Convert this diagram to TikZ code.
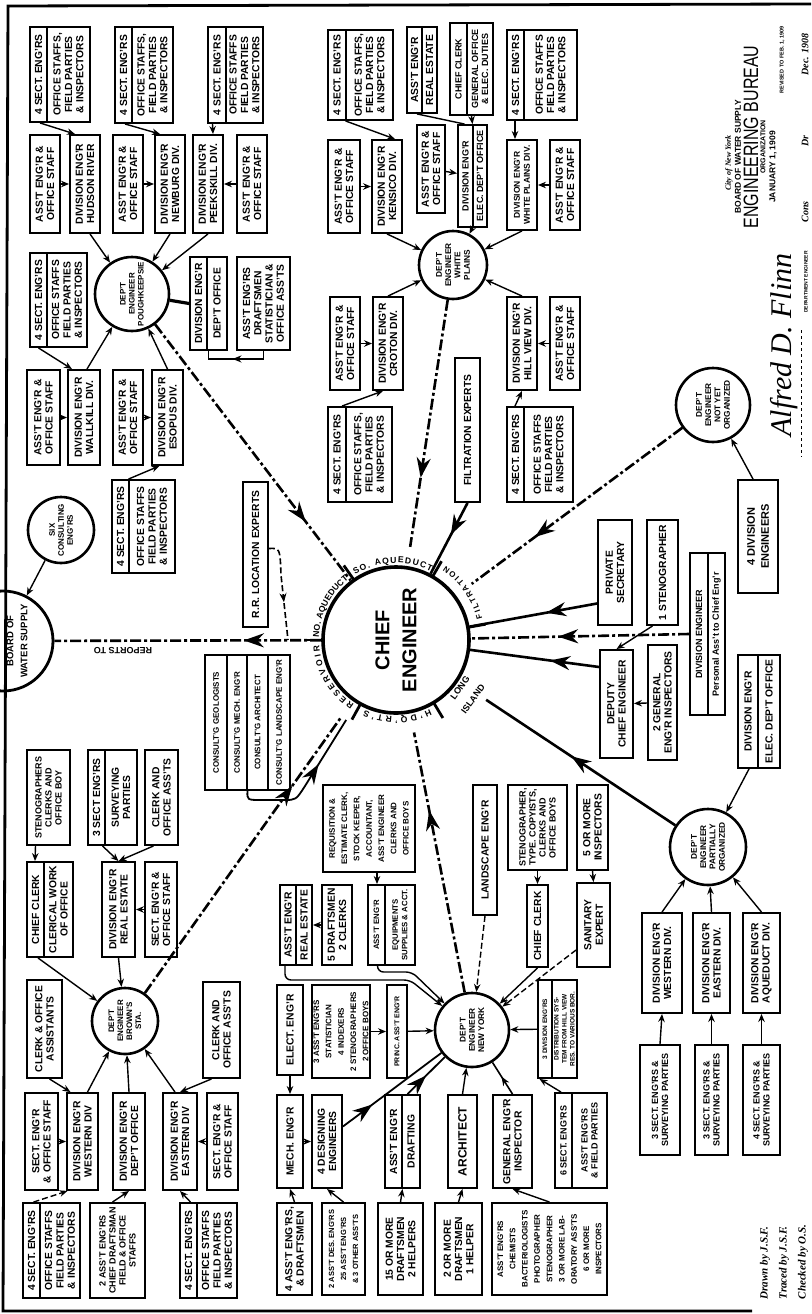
\documentclass[tikz,border=0pt]{standalone}
\usepackage{fontspec}
\usepackage{graphicx}
\setmainfont{Liberation Sans}
\newfontfamily\handfont{Liberation Serif}
\usetikzlibrary{arrows.meta,decorations.markings,decorations.text,calc}
\newcommand\fA{\bfseries\fontsize{10.3}{11.3}\selectfont}
\newcommand\fB{\bfseries\fontsize{9}{10}\selectfont}
\newcommand\fC{\bfseries\fontsize{8}{9}\selectfont}
\newcommand\fD{\bfseries\fontsize{8.3}{9.3}\selectfont}
\newcommand\fE{\bfseries\fontsize{8}{12.3}\selectfont}
\newcommand\fF{\bfseries\fontsize{6.5}{8}\selectfont}
\tikzset{
  bx/.style={draw, line width=1.9pt, rotate=90, align=center, inner sep=0pt, font=\fA},
  tx/.style={rotate=90, align=center, inner sep=0pt, font=\fA},
  cc/.style={draw, circle, line width=2.6pt, rotate=90, align=center, inner sep=0pt, font=\fD},
  ar/.style={line width=1.4pt, -{Stealth[length=8pt,width=6.5pt]}},
  ln/.style={line width=1.4pt},
  bigline/.style={line width=2.6pt},
  dd/.style={dash pattern=on 11pt off 3pt on 3pt off 3pt},
  ddt/.style={dash pattern=on 6pt off 3pt},
  midarr/.style={postaction={decorate, decoration={markings, mark=at position #1 with {\arrow{Stealth[length=20pt,width=14pt]}}}}},
  smid/.style={postaction={decorate, decoration={markings, mark=at position #1 with {\arrow{Stealth[length=9pt,width=7pt]}}}}},
  ring/.style={decorate, decoration={text along path, text align={fit to path}, text={|\bfseries\fontsize{8.6}{9}\selectfont|#1}}},
  ringS/.style={decorate, decoration={text along path, text align={fit to path}, text={|\bfseries\fontsize{8}{9}\selectfont|#1}}},
}
\newcommand\bxat[7][]{\node[bx,minimum width={#6-#5},minimum height={#4-#3},#1] (#2) at ({(#3+#4)/2},{(#5+#6)/2}) {#7};}
\newcommand\spl[9][]{%
  \node[bx,minimum width={#7-#6},minimum height={#5-#3},#1] (#2) at ({(#3+#5)/2},{(#6+#7)/2}) {};
  \draw[line width=1.4pt] (#4,#6) -- (#4,#7);
  \node[tx,#1] (#2a) at ({(#3+#4)/2},{(#6+#7)/2}) {#8};
  \node[tx,#1] (#2b) at ({(#4+#5)/2},{(#6+#7)/2}) {#9};}
\begin{document}
\begin{tikzpicture}[x=1pt,y=-1pt]
\useasboundingbox (0,0) rectangle (811,1314);
\fill[white] (0,0) rectangle (811,1314);
\draw[line width=2.8pt] (811,4) -- (8,6) -- (3,1311) -- (752,1311);

% ---------------- CHIEF ----------------
\node[draw, circle, line width=3.6pt, minimum size=146pt, rotate=90, align=center, inner sep=0pt,
  font=\bfseries\fontsize{20}{27}\selectfont] (chief) at (396,640) {CHIEF\\ENGINEER};
\node[circle, minimum size=188pt, inner sep=0pt] (chiefR) at (396,640) {};
\node[circle, minimum size=216pt, inner sep=0pt] (chiefL) at (396,640) {};
\path[ring={NO. AQUEDUCT}] ($(chief.center)+(-178:77)$) arc[start angle=-178, end angle=-128, radius=77];
\path[ring={SO. AQUEDUCT}] ($(chief.center)+(-122:77)$) arc[start angle=-122, end angle=-63, radius=77];
\path[ringS={FILTRATION}] ($(chief.center)+(-14:89)$) arc[start angle=-14, end angle=-56, radius=89];
\node[rotate=54, inner sep=0pt, font=\bfseries\fontsize{9}{9}\selectfont] (li1) at (460,688) {LONG};
\node[rotate=54, inner sep=0pt, font=\bfseries\fontsize{9}{9}\selectfont] (li2) at (473,699) {ISLAND};
\path[ring={H'DQ'RT'S}] ($(chief.center)+(64:77)$) arc[start angle=64, end angle=114, radius=77];
\path[ring={RESERVOIR}] ($(chief.center)+(123:77)$) arc[start angle=123, end angle=176, radius=77];
\foreach \a in {-125,-60,-10,59,119,180}
  \draw[line width=2.8pt] ($(chief.center)+(\a:74)$) -- ($(chief.center)+(\a:91)$);

% ---------------- BOARD / SIX ----------------
\node[draw, circle, line width=2.8pt, minimum size=100pt] (board) at (3,641) {};
\node[tx, font=\bfseries\fontsize{9.5}{14}\selectfont] (boardt) at (17,641) {BOARD OF\\WATER SUPPLY};
\node[cc, minimum size=66pt, font=\fC] (six) at (61,530) {SIX\\CONSULTING\\ENG'RS};
\node[rotate=180, inner sep=0pt, font=\bfseries\fontsize{9}{9}\selectfont] (rep) at (123,651) {REPORTS TO};
\bxat{rr}{243}{268}{482}{627}{R.R. LOCATION EXPERTS}
\coordinate (rrj) at (288,640);

% ---------------- POUGHKEEPSIE ----------------
\spl{p4a}{30}{47}{90}{27}{122}{4 SECT. ENG'RS}{OFFICE STAFFS,\\FIELD PARTIES\\\& INSPECTORS}
\spl{p4b}{115}{132}{173}{27}{123}{4 SECT. ENG'RS}{OFFICE STAFFS,\\FIELD PARTIES\\\& INSPECTORS}
\spl{p4c}{208}{226}{263}{27}{123}{4 SECT. ENG'RS}{OFFICE STAFFS\\FIELD PARTIES\\\& INSPECTORS}
\bxat{pa1}{30}{60}{135}{233}{ASS'T ENG'R \&\\OFFICE STAFF}
\bxat{pdHud}{70}{100}{135}{233}{DIVISION ENG'R\\HUDSON RIVER}
\bxat{pa2}{113}{143}{135}{233}{ASS'T ENG'R \&\\OFFICE STAFF}
\bxat{pdNew}{155}{185}{135}{233}{DIVISION ENG'R\\NEWBURG DIV.}
\bxat{pdPee}{193}{223}{135}{233}{DIVISION ENG'R\\PEEKSKILL DIV.}
\bxat{pa3}{237}{267}{135}{233}{ASS'T ENG'R \&\\OFFICE STAFF}
\node[cc, minimum size=74pt, font=\fC] (pk) at (132,294) {DEP'T\\ENGINEER\\POUGHKEEPSIE};
\spl{p4d}{30}{47}{87}{253}{347}{4 SECT. ENG'RS}{OFFICE STAFFS\\FIELD PARTIES\\\& INSPECTORS}
\spl{pdOff}{190}{207}{227}{257}{350}{DIVISION ENG'R}{DEP'T OFFICE}
\bxat{passt}{237}{290}{257}{350}{ASS'T ENG'RS\\DRAFTSMEN\\STATISTICIAN \&\\OFFICE ASS'TS}
\bxat{pa4}{27}{60}{370}{465}{ASS'T ENG'R \&\\OFFICE STAFF}
\bxat{pdWal}{68}{100}{370}{465}{DIVISION ENG'R\\WALLKILL DIV.}
\bxat{pa5}{113}{143}{370}{465}{ASS'T ENG'R \&\\OFFICE STAFF}
\bxat{pdEso}{152}{183}{370}{465}{DIVISION ENG'R\\ESOPUS DIV.}
\spl{p4e}{112}{129}{175}{480}{573}{4 SECT. ENG'RS}{OFFICE STAFFS\\FIELD PARTIES\\\& INSPECTORS}

% ---------------- WHITE PLAINS ----------------
\spl{w4a}{328}{346}{393}{30}{120}{4 SECT. ENG'RS}{OFFICE STAFFS,\\FIELD PARTIES\\\& INSPECTORS}
\spl{wRE}{407}{422}{437}{27}{113}{ASS'T ENG'R}{REAL ESTATE}
\spl[font=\fB]{wCC}{450}{467}{493}{23}{115}{CHIEF CLERK}{GENERAL OFFICE\\\& ELEC. DUTIES}
\spl{w4b}{507}{524}{577}{30}{120}{4 SECT. ENG'RS}{OFFICE STAFFS\\FIELD PARTIES\\\& INSPECTORS}
\bxat{wa1}{328}{360}{140}{233}{ASS'T ENG'R \&\\OFFICE STAFF}
\bxat{wdKen}{372}{402}{140}{233}{DIVISION ENG'R\\KENSICO DIV.}
\bxat{wa2}{417}{445}{125}{213}{ASS'T ENG'R \&\\OFFICE STAFF}
\spl[font=\fB]{wdEl}{458}{473}{487}{125}{227}{DIVISION ENG'R}{ELEC. DEP'T OFFICE}
\bxat[font=\bfseries\fontsize{8.5}{10}\selectfont]{wdWP}{507}{537}{140}{230}{DIVISION ENG'R\\WHITE PLAINS DIV.}
\bxat{wa3}{550}{580}{140}{230}{ASS'T ENG'R \&\\OFFICE STAFF}
\node[cc, minimum size=68pt] (wp) at (453,265) {DEP'T\\ENGINEER\\WHITE\\PLAINS};
\bxat{wa4}{330}{360}{297}{390}{ASS'T ENG'R \&\\OFFICE STAFF}
\bxat{wdCro}{373}{403}{297}{390}{DIVISION ENG'R\\CROTON DIV.}
\bxat{wdHV}{507}{537}{297}{390}{DIVISION ENG'R\\HILL VIEW DIV.}
\bxat{wa5}{550}{580}{297}{390}{ASS'T ENG'R \&\\OFFICE STAFF}
\spl{w4c}{328}{346}{392}{407}{502}{4 SECT. ENG'RS}{OFFICE STAFFS,\\FIELD PARTIES\\\& INSPECTORS}
\spl{w4d}{507}{524}{573}{407}{502}{4 SECT. ENG'RS}{OFFICE STAFFS\\FIELD PARTIES\\\& INSPECTORS}
\bxat{filt}{455}{480}{358}{502}{FILTRATION EXPERTS}

% ---------------- RIGHT SIDE ----------------
\node[cc, minimum size=74pt] (nyo) at (713,405) {DEP'T\\ENGINEER\\NOT YET\\ORGANIZED};
\bxat[font=\bfseries\fontsize{11}{14}\selectfont]{div4}{738}{778}{480}{593}{4 DIVISION\\ENGINEERS}
\bxat{priv}{598}{632}{520}{625}{PRIVATE\\SECRETARY}
\bxat{steno}{647}{678}{520}{625}{1 STENOGRAPHER}
\spl[font=\fB]{divPA}{690}{708}{725}{553}{715}{DIVISION ENGINEER}{Personal Ass't to Chief Eng'r}
\bxat{dep}{600}{633}{650}{758}{DEPUTY\\CHIEF ENGINEER}
\bxat{geninsp}{648}{677}{645}{760}{2 GENERAL\\ENG'R INSPECTORS}
\spl{deo}{738}{758}{780}{655}{768}{DIVISION ENG'R}{ELEC. DEP'T OFFICE}
\node[cc, minimum size=76pt] (po) at (708,847) {DEP'T\\ENGINEER\\PARTIALLY\\ORGANIZED};
\bxat{dW}{642}{682}{913}{1013}{DIVISION ENG'R\\WESTERN DIV.}
\bxat{dE}{693}{730}{913}{1013}{DIVISION ENG'R\\EASTERN DIV.}
\bxat{dA}{743}{780}{913}{1013}{DIVISION ENG'R\\AQUEDUCT DIV.}
\bxat[font=\fB]{s3a}{640}{680}{1045}{1155}{3 SECT. ENG'RS \&\\SURVEYING PARTIES}
\bxat[font=\fB]{s3b}{695}{728}{1045}{1155}{3 SECT. ENG'RS \&\\SURVEYING PARTIES}
\bxat[font=\fB]{s4c}{743}{780}{1045}{1155}{4 SECT. ENG'RS \&\\SURVEYING PARTIES}

% ---------------- NEW YORK ----------------
\bxat[font=\fE]{reqn}{323}{415}{785}{872}{REQUISITION \&\\ESTIMATE CLERK,\\STOCK KEEPER,\\ACCOUNTANT,\\ASS'T ENGINEER\\CLERKS AND\\OFFICE BOYS}
\bxat{land}{473}{497}{785}{915}{LANDSCAPE ENG'R}
\bxat[font=\fB]{stenNY}{508}{567}{785}{870}{STENOGRAPHER,\\TYPE. COPYISTS,\\CLERKS AND\\OFFICE BOYS}
\bxat{s5}{577}{608}{785}{870}{5 OR MORE\\INSPECTORS}
\spl{aeRE}{280}{296}{312}{885}{965}{ASS'T ENG'R}{REAL ESTATE}
\bxat{dr5}{322}{352}{885}{965}{5 DRAFTSMEN\\2 CLERKS}
\spl[font=\bfseries\fontsize{7.8}{9.5}\selectfont]{aeEq}{368}{385}{415}{885}{965}{ASS'T ENG'R}{EQUIPMENTS\\SUPPLIES \& ACCT.}
\bxat{ccNY}{527}{548}{885}{967}{CHIEF CLERK}
\bxat{san}{577}{610}{883}{967}{SANITARY\\EXPERT}
\node[cc, minimum size=74pt] (ny) at (472,1030) {DEP'T\\ENGINEER\\NEW YORK};
\bxat{elec}{277}{303}{985}{1075}{ELECT. ENG'R}
\bxat[font=\fE]{stat}{312}{370}{985}{1078}{3 ASS'T ENG'RS\\STATISTICIAN\\4 INDEXERS\\2 STENOGRAPHERS\\2 OFFICE BOYS}
\bxat[font=\bfseries\fontsize{7}{8}\selectfont]{princ}{387}{407}{985}{1078}{PRINC. ASS'T ENG'R}
\spl[font=\fF]{div3}{538}{552}{577}{980}{1078}{3 DIVISION ENG'RS}{DISTRIBUTION SYS-\\TEM FROM HILL VIEW\\RES. TO VARIOUS BOR.}
\bxat{mech}{277}{303}{1095}{1188}{MECH. ENG'R}
\bxat{des4}{312}{342}{1095}{1188}{4 DESIGNING\\ENGINEERS}
\spl{aeDr}{385}{402}{420}{1095}{1188}{ASS'T ENG'R}{DRAFTING}
\bxat[font=\bfseries\fontsize{12}{14}\selectfont]{arch}{448}{477}{1095}{1188}{ARCHITECT}
\bxat{genE}{493}{532}{1095}{1188}{GENERAL ENG'R\\INSPECTOR}
\spl[font=\fB]{s6}{555}{572}{607}{1093}{1188}{6 SECT. ENG'RS}{ASS'T ENG'RS\\\& FIELD PARTIES}
\bxat{b4}{277}{312}{1203}{1295}{4 ASS'T ENG'RS,\\\& DRAFTSMEN}
\bxat[font=\bfseries\fontsize{7.5}{12}\selectfont]{b2}{322}{365}{1203}{1295}{2 ASS'T DES. ENG'RS\\25 ASS'T ENG'RS\\\& 3 OTHER ASS'TS}
\bxat{b15}{378}{423}{1203}{1295}{15 OR MORE\\DRAFTSMEN\\2 HELPERS}
\bxat{b2m}{435}{482}{1203}{1295}{2 OR MORE\\DRAFTSMEN\\1 HELPER}
\bxat[font=\fE]{bchem}{492}{607}{1203}{1295}{ASS'T ENG'RS\\CHEMISTS\\BACTERIOLOGISTS\\PHOTOGRAPHER\\STENOGRAPHER\\3 OR MORE LAB-\\ORATORY ASS'TS\\6 OR MORE\\INSPECTORS}

% ---------------- CONSULTING ----------------
\node[bx, minimum width=135pt, minimum height=85pt] (cons) at (247.5,722.5) {};
\draw[line width=1.4pt] (227,655) -- (227,790) (247,655) -- (247,790) (268,655) -- (268,790);
\node[tx, font=\bfseries\fontsize{8}{8}\selectfont] (cons1) at (216,722.5) {CONSULT'G GEOLOGISTS};
\node[tx, font=\bfseries\fontsize{8}{8}\selectfont] (cons2) at (237,722.5) {CONSULT'G MECH. ENG'R};
\node[tx, font=\bfseries\fontsize{8}{8}\selectfont] (cons3) at (257.5,722.5) {CONSULT'G ARCHITECT};
\node[tx, font=\bfseries\fontsize{8}{8}\selectfont] (cons4) at (279,722.5) {CONSULT'G LANDSCAPE ENG'R};

% ---------------- BROWN'S STA ----------------
\bxat[font=\fB]{bSteno}{27}{70}{750}{845}{STENOGRAPHERS\\CLERKS AND\\OFFICE BOY}
\spl{b3s}{88}{105}{137}{750}{845}{3 SECT ENG'RS}{SURVEYING\\PARTIES}
\bxat{bClerk}{145}{178}{750}{845}{CLERK AND\\OFFICE ASS'TS}
\spl{bCC}{27}{44}{73}{862}{957}{CHIEF CLERK}{CLERICAL WORK\\OF OFFICE}
\bxat{bdRE}{102}{135}{862}{957}{DIVISION ENG'R\\REAL ESTATE}
\bxat{bSE}{145}{177}{862}{957}{SECT. ENG'R \&\\OFFICE STAFF}
\node[cc, minimum size=66pt, font=\fC] (bs) at (125,1021) {DEP'T\\ENGINEER\\BROWN'S\\STA.};
\bxat{bCOA}{27}{62}{980}{1078}{CLERK \& OFFICE\\ASSISTANTS}
\bxat{bCOA2}{203}{240}{982}{1078}{CLERK AND\\OFFICE ASS'TS}
\bxat{bSE1}{25}{58}{1093}{1190}{SECT. ENG'R\\\& OFFICE STAFF}
\bxat{bdW}{67}{98}{1093}{1190}{DIVISION ENG'R\\WESTERN DIV}
\bxat{bdO}{113}{145}{1093}{1190}{DIVISION ENG'R\\DEP'T OFFICE}
\bxat{bdE}{163}{197}{1093}{1190}{DIVISION ENG'R\\EASTERN DIV}
\bxat{bSE2}{207}{238}{1093}{1190}{SECT. ENG'R \&\\OFFICE STAFF}
\spl{bb1}{23}{40}{80}{1203}{1298}{4 SECT. ENG'RS}{OFFICE STAFFS\\FIELD PARTIES\\\& INSPECTORS}
\bxat[font=\fB]{bb2}{90}{145}{1203}{1298}{2 ASS'T ENG'RS\\CHIEF DRAFTSMAN\\FIELD \& OFFICE\\STAFFS}
\spl{bb3}{180}{197}{237}{1203}{1298}{4 SECT. ENG'RS}{OFFICE STAFFS\\FIELD PARTIES\\\& INSPECTORS}

% ---------------- TITLE BLOCK ----------------
\node[tx, font=\handfont\bfseries\itshape\fontsize{8}{8}\selectfont] (t1) at (729,163) {City of New York};
\node[tx, font=\bfseries\fontsize{8.5}{8.5}\selectfont] (t2) at (738,157) {BOARD OF WATER SUPPLY};
\node[tx, font=\fontsize{16}{16}\selectfont] (t3) at (751,137) {\scalebox{1}[1.3]{ENGINEERING BUREAU}};
\node[tx, font=\bfseries\fontsize{7}{7}\selectfont] (t4) at (763,147) {ORGANIZATION};
\node[tx, font=\bfseries\fontsize{8.5}{8.5}\selectfont] (t5) at (773,167) {JANUARY 1, 1909};
\node[tx, font=\bfseries\fontsize{5.5}{5.5}\selectfont] (t6) at (782,60) {REVISED TO FEB. 1, 1909};
\node[tx, font=\handfont\bfseries\itshape\fontsize{10}{10}\selectfont] (t7) at (805,128) {Cons\hspace{55pt}Dr\hspace{60pt}Dec. 1908};
\node[tx, font=\handfont\itshape\fontsize{30}{30}\selectfont] (sig) at (784,345) {Alfred D. Flinn};
\node[tx, font=\bfseries\fontsize{5}{5}\selectfont] (sigt) at (806,282) {DEPARTMENT ENGINEER};
\draw[dashed, line width=0.8pt] (801,330) -- (801,457);
\node[tx, font=\handfont\bfseries\itshape\fontsize{11}{19}\selectfont, align=left] (drawn) at (784,1262) {Drawn by J.S.F.\\Traced by J.S.F.\\Checked by O.S.};

% ================= CONNECTORS =================
% Poughkeepsie
\draw[ar] ($(p4a.west)+(-20,0)$) -- ($(pdHud.east)+(-10,0)$);
\draw[ar] ($(p4b.west)+(-19,0)$) -- ($(pdNew.east)+(-10,0)$);
\draw[ar] ($(p4c.west)+(-23,0)$) -- ($(pdPee.east)+(5,0)$);
\draw[ar] (pa1) -- (pdHud);
\draw[ar] (pa2) -- (pdNew);
\draw[ar] (pa3) -- (pdPee);
\draw[ar] ($(pdHud.west)+(5,0)$) -- (pk);
\draw[ar] (pdNew.west) -- (pk);
\draw[ar] (pdPee.west) -- (pk);
\draw[ar] ($(p4d.west)+(-20,0)$) -- ($(pdWal.east)+(-12,0)$);
\draw[ar] (pa4) -- (pdWal);
\draw[ar] (pa5) -- (pdEso);
\draw[ar] ($(pdWal.east)+(3,0)$) -- (pk);
\draw[ar] (pdEso.east) -- (pk);
\draw[ar] ($(p4e.east)+(-15,0)$) -- ($(pdEso.west)+(-8,0)$);
\draw[line width=3.2pt] (pk) -- (pdOff.north);
\draw[ln, smid=0.55] (passt.west) -- ++(0,8) -| (pdOff.west);
\draw[bigline, dd, midarr=0.77] (pk) -- (chief);
% White Plains
\draw[ar] ($(w4a.west)+(-15,0)$) -- ($(wdKen.east)+(8,0)$);
\draw[ln] ($(wRE.west)+(-5,0)$) -- ($(wdEl.east)+(-8,0)$);
\draw[ar] (wCC.west) -- (wdEl.east);
\draw[ar] (wa1) -- (wdKen);
\draw[ar] (wa2) -- (wdEl);
\draw[ar] (wa3) -- (wdWP);
\draw[ar] ($(w4b.west)+(-27,0)$) -- ($(wdWP.east)+(-7,0)$);
\draw[ar] (wdKen.west) -- (wp);
\draw[ar] (wdEl.west) -- (wp);
\draw[ar] (wdWP.west) -- (wp);
\draw[ar] (wdCro.east) -- (wp);
\draw[ar] (wdHV.east) -- (wp);
\draw[ar] (wa4) -- (wdCro);
\draw[ar] (wa5) -- (wdHV);
\draw[ar] ($(w4c.east)+(-18,0)$) -- ($(wdCro.west)+(-5,0)$);
\draw[ar] ($(w4d.east)+(-25,0)$) -- (wdHV.west);
\draw[bigline, dd, midarr=0.72] (wp) -- (chiefR);
\draw[bigline, midarr=0.45] (filt.west) -- (chief);
% Right side
\draw[bigline, dd, midarr=0.7] (nyo) -- (chiefR);
\draw[ar] ($(div4.east)+(-5,0)$) -- (nyo);
\draw[bigline, midarr=0.4] ($(priv.north)+(0,31)$) -- (chief);
\draw[bigline, dd, midarr=0.6] (divPA.north) -- (chief);
\draw[ar] ($(steno.west)+(-10,0)$) -- (dep.east);
\draw[bigline, midarr=0.38] ($(dep.north)+(0,-37)$) -- (chief);
\draw[ar] (geninsp) -- (dep);
\draw[ar] ($(deo.west)+(-10,0)$) -- (po);
\draw[bigline, midarr=0.55] (po) -- (chiefL);
\draw[ar] (dW.east) -- (po);
\draw[ar] (dE.east) -- (po);
\draw[ar] (dA.east) -- (po);
\draw[ar] (s3a.east) -- (dW.west);
\draw[ar] (s3b.east) -- (dE.west);
\draw[ar] (s4c.east) -- (dA.west);
% New York
\draw[ar] ($(reqn.west)+(8,0)$) -- ($(aeEq.east)+(-14.5,0)$);
\draw[ar] (dr5) -- (aeRE);
\draw[ar, rounded corners=6pt] ($(aeRE.west)+(-11,0)$) |- (410,980) -- (ny);
\draw[ar, rounded corners=6pt] ($(aeEq.west)+(-14,0)$) |- (412,972) -- (ny);
\draw[ar] (stenNY.west) -- (ccNY.east);
\draw[ar, ddt] (land.west) -- (ny);
\draw[ar] (ccNY.west) -- (ny);
\draw[ar] (s5.west) -- (san.east);
\draw[ar, ddt] ($(san.north)+(0,25)$) -- (ny);
\draw[bigline, dd, midarr=0.7] (ny) -- (chiefR);
\draw[ar] (elec.west) -- (mech.east);
\draw[ar] (b4.east) -- (mech.west);
\draw[ar] (b2.east) -- (des4.west);
\draw[ar] (b15.east) -- (aeDr.west);
\draw[ar] (b2m.east) -- (arch.west);
\draw[ar] (bchem.east) -- (genE.west);
\draw[ar] (mech) -- (des4);
\draw[line width=1.8pt, midarr=0.3] ($(des4.south)+(0,-15)$) -- (ny);
\draw[line width=1.8pt, midarr=0.5] ($(aeDr.east)+(5,0)$) -- (ny);
\draw[ar] (arch.east) -- (ny);
\draw[line width=1.6pt, smid=0.55] (genE.east) -- (ny);
\draw[ar] (princ) -- (ny);
\draw[ar] (stat) -- (princ);
\draw[ar] (div3) -- (ny);
\draw[ar] ($(s6.east)+(-20,0)$) -- ($(div3.west)+(-18,0)$);
% Consulting and R.R.
\draw[line width=1.8pt, midarr=0.65] (cons.west) .. controls (247,800) .. (262,800) -- (284,800) .. controls (296,800) .. (305,786) -- (chiefR);
\draw[line width=1.6pt, ddt, smid=0.62] ($(rr.south)+(0,-6)$) .. controls (280,548) .. (281,575) -- (rrj);
% Board
\draw[bigline, dd, midarr=0.29] (chief) -- (board);
\draw[ar] (six) -- (board);
% Brown's
\draw[ar] ($(bSteno.west)+(-13,0)$) -- ($(bCC.east)+(-15,0)$);
\draw[ar] ($(b3s.west)+(-10,0)$) -- (bdRE.east);
\draw[ar] ($(bClerk.west)+(-8,0)$) -- (bdRE.east);
\draw[ar] (bSE) -- (bdRE);
\draw[ar] ($(bCC.west)+(-12,0)$) -- (bs);
\draw[ar] (bdRE.west) -- (bs);
\draw[ar] ($(bCOA.west)+(5,0)$) -- ($(bdW.east)+(-12,0)$);
\draw[ar] ($(bdW.east)+(5,0)$) -- (bs);
\draw[ar] (bdO.east) -- (bs);
\draw[ar] ($(bdE.east)+(-5,0)$) -- (bs);
\draw[ar] ($(bCOA2.west)+(-10,0)$) -- (bdE.east);
\draw[ar] (bSE1) -- (bdW);
\draw[ar] (bSE2) -- (bdE);
\draw[ar, ddt] ($(bb1.east)+(-18,0)$) -- ($(bdW.west)+(-15,0)$);
\draw[ar] ($(bb2.east)+(-5,0)$) -- (bdO.west);
\draw[ar] ($(bb3.east)+(-18,0)$) -- (bdE.west);
\draw[bigline, dd, midarr=0.75] (bs) -- (chiefR);
\end{tikzpicture}
\end{document}
